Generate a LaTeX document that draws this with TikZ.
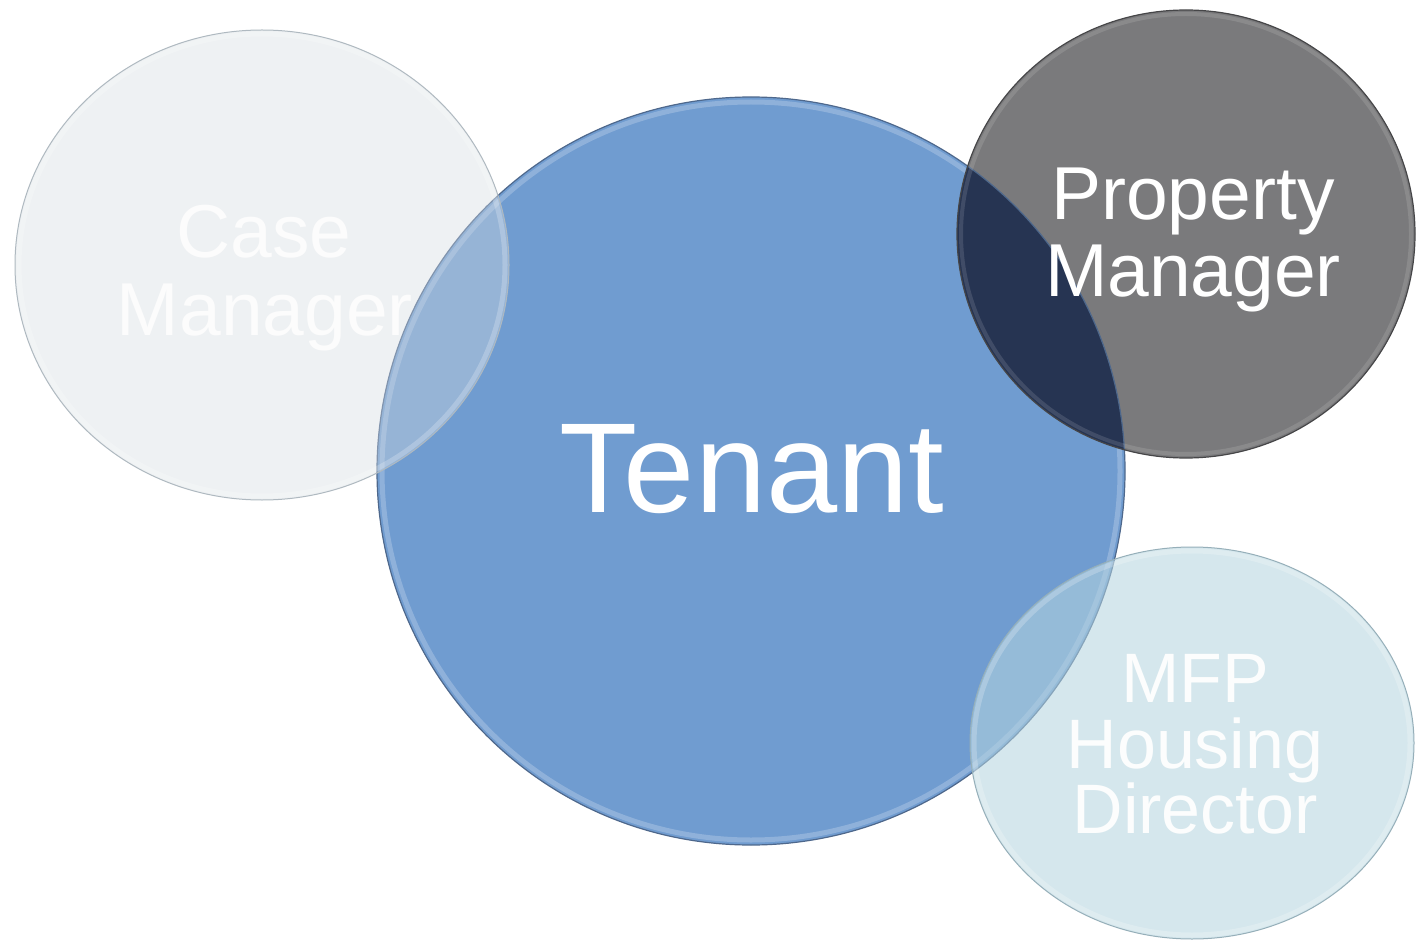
\documentclass[tikz,border=0pt]{standalone}
\usepackage{fontspec}
\setmainfont{Liberation Sans}
\definecolor{tenantblue}{RGB}{112,156,208}
\definecolor{tenantedge}{RGB}{78,104,140}
\definecolor{pmgray}{RGB}{122,122,124}
\definecolor{pmedge}{RGB}{70,70,72}
\definecolor{pmnavy}{RGB}{38,52,82}
\definecolor{cmfill}{RGB}{211,219,226}
\definecolor{cmedge}{RGB}{175,185,192}
\definecolor{mfpfill}{RGB}{180,213,224}
\definecolor{mfpedge}{RGB}{150,175,185}
\tikzset{
  lbl/.style={text=white, inner sep=0pt, anchor=base},
  bigfont/.style={font=\fontsize{128}{130}\selectfont},
  midfont/.style={font=\fontsize{75}{77}\selectfont},
  mfpfont/.style={font=\fontsize{70}{66}\selectfont},
  rim/.style={draw=white, draw opacity=0.22, line width=5},
}
\begin{document}
\begin{tikzpicture}[x=1pt,y=-1pt]
\useasboundingbox (0,0) rectangle (1421,941);
\fill[white] (0,0) rectangle (1421,941);
% Tenant
\fill[tenantblue] (751,471) ellipse [x radius=374, y radius=374];
\draw[rim] (751,471) ellipse [x radius=369, y radius=369];
% Property Manager
\fill[pmgray] (1186,234) ellipse [x radius=229, y radius=224];
\begin{scope}
  \clip (751,471) ellipse [x radius=374, y radius=374];
  \fill[pmnavy] (1186,234) ellipse [x radius=229, y radius=224];
\end{scope}
\draw[tenantedge, line width=1.2] (751,471) ellipse [x radius=374, y radius=374];
\draw[white, draw opacity=0.12, line width=4] (1186,234) ellipse [x radius=225, y radius=220];
\draw[pmedge, line width=1.2] (1186,234) ellipse [x radius=229, y radius=224];
% Case Manager
\fill[cmfill, fill opacity=0.385] (262,265) ellipse [x radius=247, y radius=235];
\draw[rim] (262,265) ellipse [x radius=243, y radius=231];
\draw[cmedge, line width=1] (262,265) ellipse [x radius=247, y radius=235];
% MFP Housing Director
\fill[mfpfill, fill opacity=0.55] (1192,743) ellipse [x radius=222, y radius=196];
\draw[rim] (1192,743) ellipse [x radius=218, y radius=192];
\draw[mfpedge, line width=1] (1192,743) ellipse [x radius=222, y radius=196];
% labels
\node[lbl, bigfont] (tenant) at (752,512) {Tenant};
\node[lbl, midfont] (pm1) at (1193,220) {Property};
\node[lbl, midfont] (pm2) at (1193,297) {Manager};
\node[lbl, midfont, text=white!96!cmedge] (cm1) at (264,258) {Case};
\node[lbl, midfont, text=white!96!cmedge] (cm2) at (265,335) {Manager};
\node[lbl, mfpfont, text=white!97!mfpedge] (mfp1) at (1195,702) {MFP};
\node[lbl, mfpfont, text=white!97!mfpedge] (mfp2) at (1195,768) {Housing};
\node[lbl, mfpfont, text=white!97!mfpedge] (mfp3) at (1195,833) {Director};
\end{tikzpicture}
\end{document}
